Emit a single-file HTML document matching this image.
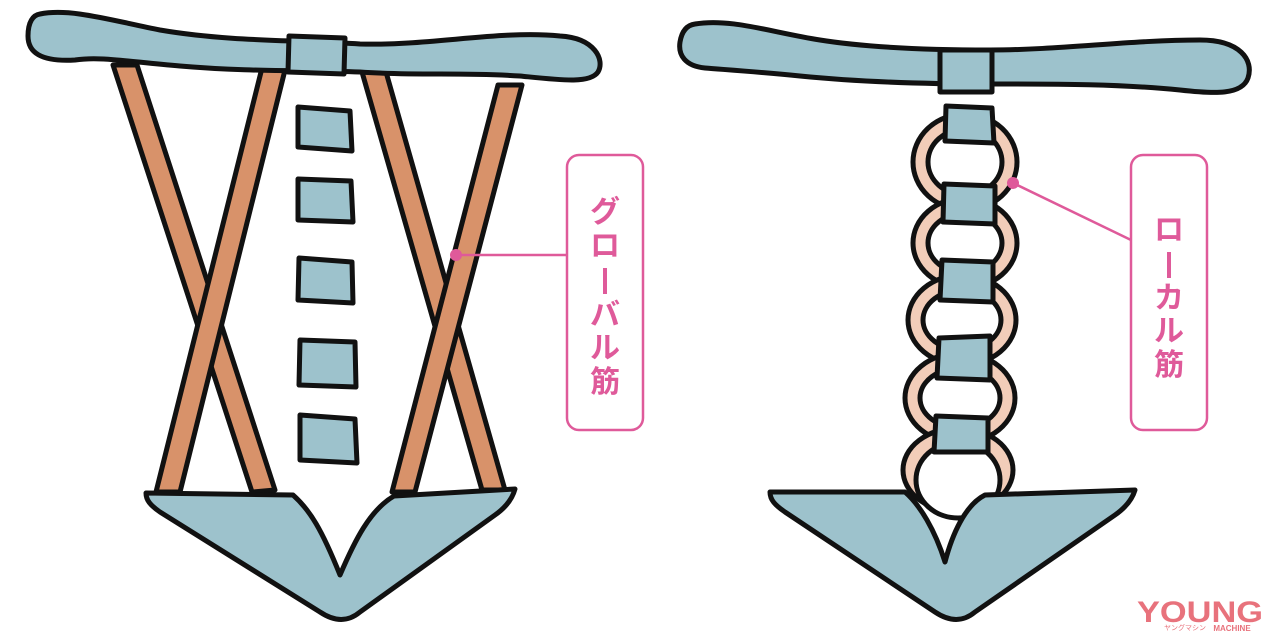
<!DOCTYPE html>
<html><head><meta charset="utf-8"><style>
html,body{margin:0;padding:0;background:#fff;}
svg{display:block}
</style></head><body>
<svg width="1280" height="640" viewBox="0 0 1280 640" xmlns="http://www.w3.org/2000/svg">
<g stroke="#111" stroke-width="5" stroke-linejoin="round" stroke-linecap="round">
<!-- LEFT FIGURE -->
<g fill="#d8926a">
<polygon points="113,65 137,65 275,490 252,492"/>
<polygon points="262,68 285,70 180,492 156,492"/>
<polygon points="362,72 386,72 505,490 482,490"/>
<polygon points="498,85 522,85 415,492 392,492"/>
</g>
<path fill="#9dc2cc" d="M40,14 C70,8 110,20 160,30 C230,42 300,40 360,44 C430,46 500,30 560,36 C595,38 605,60 598,72 C590,84 560,80 520,76 C460,72 420,76 360,72 C300,70 250,72 180,66 C130,62 100,56 75,60 C40,62 28,52 28,36 C28,22 33,15 40,14 Z"/>
<path fill="#9dc2cc" d="M289,36 L345,38 L344,74 L288,72 Z"/>
<g fill="#9dc2cc">
<path d="M298,107 L350,111 L352,151 L298,147 Z"/>
<path d="M298,179 L351,181 L353,222 L298,220 Z"/>
<path d="M299,258 L352,262 L353,303 L298,300 Z"/>
<path d="M300,340 L355,342 L356,387 L299,385 Z"/>
<path d="M300,415 L355,419 L357,463 L300,460 Z"/>
</g>
<path fill="#9dc2cc" d="M146,493 L293,495 C310,510 322,530 340,575 C355,540 370,510 394,496 L515,489 C512,500 505,508 495,515 L360,612 C348,622 335,622 320,612 L160,512 C150,505 146,500 146,493 Z"/>

<!-- RIGHT FIGURE -->
<path fill="#9dc2cc" d="M695,24 C730,18 770,32 820,40 C870,48 930,50 990,50 C1060,50 1130,40 1200,40 C1240,40 1254,60 1248,78 C1242,95 1215,94 1180,90 C1120,84 1060,84 990,84 C920,84 860,82 800,76 C760,72 730,70 705,68 C685,66 678,55 680,42 C682,30 688,25 695,24 Z"/>
<path fill="#9dc2cc" d="M940,50 L992,50 L992,92 L940,92 Z"/>
<g fill="#f2cdb9">
<ellipse cx="965" cy="162" rx="52" ry="48"/>
<ellipse cx="965" cy="243" rx="52" ry="45"/>
<ellipse cx="962" cy="320" rx="54" ry="45"/>
<ellipse cx="960" cy="398" rx="55" ry="45"/>
<ellipse cx="958" cy="470" rx="55" ry="42"/>
</g>
<g fill="#fff">
<ellipse cx="965" cy="162" rx="37" ry="33"/>
<ellipse cx="965" cy="243" rx="37" ry="30"/>
<ellipse cx="962" cy="320" rx="39" ry="30"/>
<ellipse cx="960" cy="398" rx="40" ry="30"/>
<ellipse cx="958" cy="480" rx="42" ry="38"/>
</g>
<g fill="#9dc2cc">
<path d="M946,106 L992,108 L994,143 L945,141 Z"/>
<path d="M944,184 L995,186 L995,224 L943,222 Z"/>
<path d="M942,260 L993,262 L993,302 L940,300 Z"/>
<path d="M939,338 L990,336 L990,380 L937,378 Z"/>
<path d="M936,416 L988,418 L988,452 L934,452 Z"/>
</g>
<path fill="#9dc2cc" d="M770,492 L905,492 C920,505 935,530 945,562 C952,535 965,505 985,495 L1135,490 C1132,500 1125,508 1115,515 L975,612 C963,622 950,622 935,612 L785,512 C775,505 770,500 770,492 Z"/>
</g>

<g fill="none" stroke="#df5a9a" stroke-width="2.5">
<rect x="567" y="155" width="76" height="275" rx="12"/>
<line x1="456" y1="255" x2="567" y2="255"/>
<rect x="1131" y="155" width="76" height="275" rx="12"/>
<line x1="1013" y1="183" x2="1131" y2="240"/>
</g>
<circle cx="456" cy="255" r="6" fill="#df5a9a"/>
<circle cx="1013" cy="183" r="6" fill="#df5a9a"/>
<!-- vertical long-vowel bars -->
<rect x="603" y="268" width="4" height="26" fill="#df5a9a"/>
<rect x="1167" y="252" width="4" height="26" fill="#df5a9a"/>
<g font-family="'Liberation Sans','Noto Sans CJK JP',sans-serif" font-size="30" font-weight="bold" fill="#df5a9a" text-anchor="middle">
<text x="605" y="222">グ</text>
<text x="605" y="256">ロ</text>
<text x="605" y="325">バ</text>
<text x="605" y="358">ル</text>
<text x="605" y="392">筋</text>
<text x="1169" y="240">ロ</text>
<text x="1169" y="308">カ</text>
<text x="1169" y="341">ル</text>
<text x="1169" y="375">筋</text>
</g>
<text x="1200" y="622" text-anchor="middle" font-family="'Liberation Sans',sans-serif" font-weight="bold" font-size="30" fill="#e8727c" textLength="126" lengthAdjust="spacingAndGlyphs">YOUNG</text>
<text x="1232" y="631" text-anchor="middle" font-family="'Liberation Sans',sans-serif" font-weight="bold" font-size="8" fill="#e8727c">MACHINE</text>
<text x="1185" y="630" text-anchor="middle" font-family="'Noto Sans CJK JP',sans-serif" font-size="7" fill="#e8727c">ヤングマシン</text>
</svg>
</body></html>
